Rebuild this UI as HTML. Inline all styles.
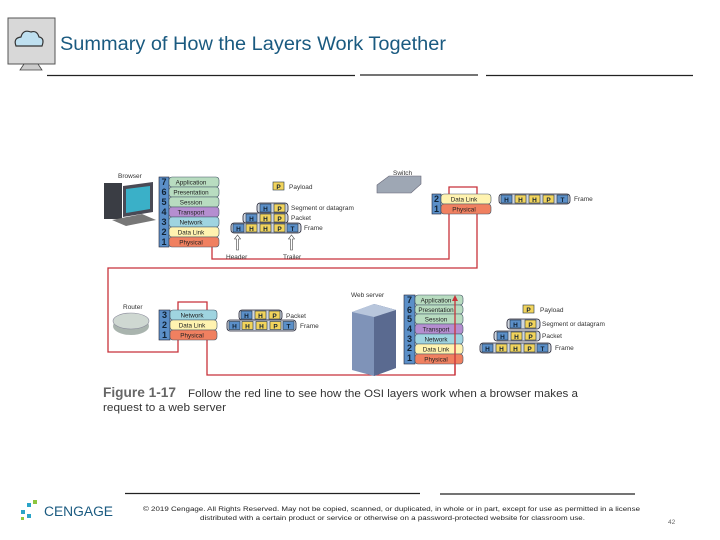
<!DOCTYPE html>
<html><head><meta charset="utf-8"><style>
body{margin:0;background:#fff}
svg{display:block;font-family:"Liberation Sans",sans-serif}
</style></head><body>
<svg width="720" height="540" viewBox="0 0 720 540" xmlns="http://www.w3.org/2000/svg">
<defs>
<g id="H"><rect width="11" height="8" fill="#5b8fc8" stroke="#234" stroke-width="0.6"/><text x="5.5" y="6.8" font-size="6.5" text-anchor="middle" font-weight="bold" fill="#123">H</text></g>
<g id="Y"><rect width="11" height="8" fill="#f2d45c" stroke="#234" stroke-width="0.6"/><text x="5.5" y="6.8" font-size="6.5" text-anchor="middle" font-weight="bold" fill="#123">H</text></g>
<g id="P"><rect width="11" height="8" fill="#f2d45c" stroke="#234" stroke-width="0.6"/><text x="5.5" y="6.8" font-size="6.5" text-anchor="middle" font-weight="bold" fill="#123">P</text></g>
<g id="T"><rect width="11" height="8" fill="#5b8fc8" stroke="#234" stroke-width="0.6"/><text x="5.5" y="6.8" font-size="6.5" text-anchor="middle" font-weight="bold" fill="#123">T</text></g>
</defs>
<rect x="8" y="18" width="47" height="46" fill="#d8d8d8" stroke="#555" stroke-width="1"/>
<path d="M16 46 q-3-8 5-9 q2-8 10-5 q6-2 8 5 q6 1 3 9 z" fill="#bfe0f0" stroke="#333" stroke-width="1.2"/>
<path d="M24 64 l-4 6 h22 l-4-6 z" fill="#ccc" stroke="#444" stroke-width="0.8"/>
<text x="60" y="50" font-size="19" fill="#1a5a80" textLength="386" lengthAdjust="spacingAndGlyphs">Summary of How the Layers Work Together</text>
<path d="M47 75.5 H355 M360 75 H478 M486 75.5 H693" stroke="#222" stroke-width="1.3"/>

<g fill="none" stroke="#c8323a" stroke-width="1.3">
<path d="M212 240 V259 H449 V187 H477 V268 H108 V352 H178 V302 H207 V375 H455 V300"/>
</g>

<text x="118" y="178" font-size="6.5" fill="#333">Browser</text>
<rect x="104" y="183" width="18" height="36" fill="#3a3d44"/>
<path d="M123 186 l30 -4 v30 l-30 5 z" fill="#4a4a55"/><path d="M126 189 l24 -3 v23 l-24 4 z" fill="#3ab0c8"/>
<path d="M112 220 l30 -6 l14 6 l-30 6 z" fill="#777"/>
<g font-size="6.3" text-anchor="middle" fill="#222">
<rect x="159" y="177" width="10" height="70" fill="#5b8fc8" stroke="#223" stroke-width="0.6"/>
<g fill="#123" font-size="9" font-weight="bold"><text x="164" y="185">7</text><text x="164" y="195">6</text><text x="164" y="205">5</text><text x="164" y="215">4</text><text x="164" y="225">3</text><text x="164" y="235">2</text><text x="164" y="245">1</text></g>
<rect x="169" y="177" width="50" height="10" rx="3" fill="#b8dcc0" stroke="#456" stroke-width="0.6"/><text x="191" y="184.5">Application</text>
<rect x="169" y="187" width="50" height="10" rx="3" fill="#b8dcc0" stroke="#456" stroke-width="0.6"/><text x="191" y="194.5">Presentation</text>
<rect x="169" y="197" width="50" height="10" rx="3" fill="#b8dcc0" stroke="#456" stroke-width="0.6"/><text x="191" y="204.5">Session</text>
<rect x="169" y="207" width="50" height="10" rx="3" fill="#b58ed0" stroke="#456" stroke-width="0.6"/><text x="191" y="214.5">Transport</text>
<rect x="169" y="217" width="50" height="10" rx="3" fill="#9fd4e0" stroke="#456" stroke-width="0.6"/><text x="191" y="224.5">Network</text>
<rect x="169" y="227" width="50" height="10" rx="3" fill="#fff3b0" stroke="#456" stroke-width="0.6"/><text x="191" y="234.5">Data Link</text>
<rect x="169" y="237" width="50" height="10" rx="3" fill="#f08060" stroke="#456" stroke-width="0.6"/><text x="191" y="244.5">Physical</text>

<rect x="432" y="194" width="9" height="20" fill="#5b8fc8" stroke="#223" stroke-width="0.6"/>
<g fill="#123" font-size="9" font-weight="bold"><text x="436.5" y="202">2</text><text x="436.5" y="212">1</text></g>
<rect x="441" y="194" width="50" height="10" rx="3" fill="#fff3b0" stroke="#456" stroke-width="0.6"/><text x="464" y="201.5">Data Link</text>
<rect x="441" y="204" width="50" height="10" rx="3" fill="#f08060" stroke="#456" stroke-width="0.6"/><text x="464" y="211.5">Physical</text>

<rect x="159" y="310" width="11" height="30" fill="#5b8fc8" stroke="#223" stroke-width="0.6"/>
<g fill="#123" font-size="9" font-weight="bold"><text x="164.5" y="318">3</text><text x="164.5" y="328">2</text><text x="164.5" y="338">1</text></g>
<rect x="170" y="310" width="47" height="10" rx="3" fill="#9fd4e0" stroke="#456" stroke-width="0.6"/><text x="192" y="317.5">Network</text>
<rect x="170" y="320" width="47" height="10" rx="3" fill="#fff3b0" stroke="#456" stroke-width="0.6"/><text x="192" y="327.5">Data Link</text>
<rect x="170" y="330" width="47" height="10" rx="3" fill="#f08060" stroke="#456" stroke-width="0.6"/><text x="192" y="337.5">Physical</text>

<rect x="404" y="295" width="11" height="69" fill="#5b8fc8" stroke="#223" stroke-width="0.6"/>
<g fill="#123" font-size="9" font-weight="bold"><text x="409.5" y="303">7</text><text x="409.5" y="313">6</text><text x="409.5" y="322">5</text><text x="409.5" y="332">4</text><text x="409.5" y="342">3</text><text x="409.5" y="351">2</text><text x="409.5" y="361">1</text></g>
<rect x="415" y="295" width="48" height="10" rx="3" fill="#b8dcc0" stroke="#456" stroke-width="0.6"/><text x="436" y="302.5">Application</text>
<rect x="415" y="305" width="48" height="9" rx="3" fill="#b8dcc0" stroke="#456" stroke-width="0.6"/><text x="436" y="312">Presentation</text>
<rect x="415" y="314" width="48" height="10" rx="3" fill="#b8dcc0" stroke="#456" stroke-width="0.6"/><text x="436" y="321.5">Session</text>
<rect x="415" y="324" width="48" height="10" rx="3" fill="#b58ed0" stroke="#456" stroke-width="0.6"/><text x="436" y="331.5">Transport</text>
<rect x="415" y="334" width="48" height="10" rx="3" fill="#9fd4e0" stroke="#456" stroke-width="0.6"/><text x="436" y="341.5">Network</text>
<rect x="415" y="344" width="48" height="10" rx="3" fill="#fff3b0" stroke="#456" stroke-width="0.6"/><text x="436" y="351.5">Data Link</text>
<rect x="415" y="354" width="48" height="10" rx="3" fill="#f08060" stroke="#456" stroke-width="0.6"/><text x="436" y="361.5">Physical</text>
</g>
<path d="M455 375 V300" stroke="#c8323a" stroke-width="1.3" fill="none"/>
<path d="M455 295 l-3 6 h6 z" fill="#c8323a"/>

<g font-size="6.5" fill="#333">
<use href="#P" x="273" y="182"/><text x="289" y="189">Payload</text>
<rect x="257" y="203" width="31" height="10" rx="3" fill="#cfd6e0" stroke="#223" stroke-width="0.8"/><use href="#H" x="260" y="204"/><use href="#P" x="274" y="204"/><text x="291" y="210">Segment or datagram</text>
<rect x="243" y="213" width="45" height="10" rx="3" fill="#cfd6e0" stroke="#223" stroke-width="0.8"/><use href="#H" x="246" y="214"/><use href="#Y" x="260" y="214"/><use href="#P" x="274" y="214"/><text x="291" y="220">Packet</text>
<rect x="231" y="223" width="70" height="10" rx="3" fill="#cfd6e0" stroke="#223" stroke-width="0.8"/><use href="#H" x="233" y="224"/><use href="#Y" x="246" y="224"/><use href="#Y" x="260" y="224"/><use href="#P" x="274" y="224"/><use href="#T" x="287" y="224"/><text x="304" y="230">Frame</text>
<path d="M236.5 250 V239 h-2 l3-4 l3 4 h-2 V250z M290.5 250 V239 h-2 l3-4 l3 4 h-2 V250z" fill="#fff" stroke="#444" stroke-width="0.6"/>
<text x="226" y="259">Header</text><text x="283" y="259">Trailer</text>

<text x="393" y="175">Switch</text>
<path d="M377 185 l12-9 h32 v8 l-10 9 h-34 z" fill="#9ea7b4" stroke="#667" stroke-width="0.6"/>
<rect x="499" y="194" width="71" height="10" rx="3" fill="#cfd6e0" stroke="#223" stroke-width="0.8"/><use href="#H" x="501" y="195"/><use href="#Y" x="515" y="195"/><use href="#Y" x="529" y="195"/><use href="#P" x="543" y="195"/><use href="#T" x="557" y="195"/><text x="574" y="201">Frame</text>

<text x="123" y="309">Router</text>
<ellipse cx="131" cy="326" rx="18" ry="9" fill="#a9b4ae"/><ellipse cx="131" cy="321" rx="18" ry="8" fill="#cfd8d2" stroke="#889" stroke-width="0.6"/>
<rect x="239" y="310" width="43" height="10" rx="3" fill="#cfd6e0" stroke="#223" stroke-width="0.8"/><use href="#H" x="241" y="311"/><use href="#Y" x="255" y="311"/><use href="#P" x="269" y="311"/><text x="286" y="318">Packet</text>
<rect x="227" y="320" width="69" height="11" rx="3" fill="#cfd6e0" stroke="#223" stroke-width="0.8"/><use href="#H" x="229" y="321.5"/><use href="#Y" x="242" y="321.5"/><use href="#Y" x="256" y="321.5"/><use href="#P" x="270" y="321.5"/><use href="#T" x="283" y="321.5"/><text x="300" y="328">Frame</text>

<text x="351" y="297">Web server</text>
<path d="M352 312 l22-8 l22 6 v58 l-22 8 l-22-6 z" fill="#7f93b8"/>
<path d="M374 304 l22 6 v58 l-22 8 z" fill="#5a6a90"/>
<path d="M352 312 l22-8 l22 6 l-22 7z" fill="#b8c6dc"/>

<use href="#P" x="523" y="305"/><text x="540" y="312">Payload</text>
<rect x="507" y="319" width="33" height="10" rx="3" fill="#cfd6e0" stroke="#223" stroke-width="0.8"/><use href="#H" x="510" y="320"/><use href="#P" x="525" y="320"/><text x="542" y="326">Segment or datagram</text>
<rect x="494" y="331" width="46" height="10" rx="3" fill="#cfd6e0" stroke="#223" stroke-width="0.8"/><use href="#H" x="497" y="332"/><use href="#Y" x="511" y="332"/><use href="#P" x="525" y="332"/><text x="542" y="338">Packet</text>
<rect x="480" y="343" width="71" height="10" rx="3" fill="#cfd6e0" stroke="#223" stroke-width="0.8"/><use href="#H" x="482" y="344"/><use href="#Y" x="496" y="344"/><use href="#Y" x="510" y="344"/><use href="#P" x="524" y="344"/><use href="#T" x="537" y="344"/><text x="555" y="350">Frame</text>
</g>

<text x="103" y="397" font-size="13.5" font-weight="bold" fill="#666" textLength="73" lengthAdjust="spacingAndGlyphs">Figure 1-17</text>
<text x="188" y="397" font-size="11" fill="#333" textLength="390" lengthAdjust="spacingAndGlyphs">Follow the red line to see how the OSI layers work when a browser makes a</text>
<text x="103" y="411" font-size="11" fill="#333" textLength="123" lengthAdjust="spacingAndGlyphs">request to a web server</text>

<path d="M125 493.5 H420 M440 494 H635" stroke="#222" stroke-width="1.2"/>
<g fill="#2aa4c8"><rect x="27" y="503" width="4" height="4"/><rect x="33" y="500" width="4" height="4" fill="#8cc63f"/><rect x="21" y="510" width="4" height="4"/><rect x="27" y="514" width="4" height="4"/><rect x="21" y="517" width="3" height="3" fill="#8cc63f"/></g>
<text x="44" y="516" font-size="13.5" fill="#1a5a80" textLength="69" lengthAdjust="spacingAndGlyphs">CENGAGE</text>
<text x="143" y="511" font-size="6.8" fill="#222" textLength="497" lengthAdjust="spacingAndGlyphs">© 2019 Cengage. All Rights Reserved. May not be copied, scanned, or duplicated, in whole or in part, except for use as permitted in a license</text>
<text x="200" y="520" font-size="6.8" fill="#222" textLength="385" lengthAdjust="spacingAndGlyphs">distributed with a certain product or service or otherwise on a password-protected website for classroom use.</text>
<text x="668" y="524" font-size="6.5" fill="#666">42</text>
</svg>
</body></html>
